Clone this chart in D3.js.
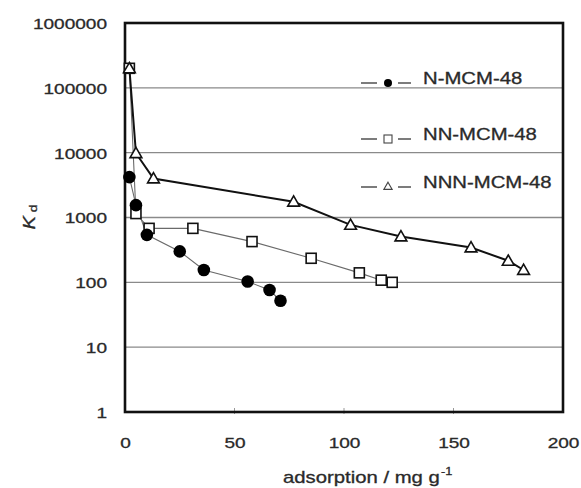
<!DOCTYPE html>
<html><head><meta charset="utf-8">
<script src="https://cdn.jsdelivr.net/npm/d3@7"></script>
<style>
html,body{margin:0;padding:0;background:#fff;}
text{font-family:"Liberation Sans",Arial,sans-serif;fill:#2a2a2a;stroke:#2a2a2a;stroke-width:0.3px;}
</style></head>
<body><svg id="c" width="581" height="488"></svg>
<script>
// ---- data ----
const seriesNames = ["N-MCM-48", "NN-MCM-48", "NNN-MCM-48"];
const nX   = [2, 5, 10, 25, 36, 56, 66, 71];
const nKd  = [4200, 1550, 540, 300, 155, 103, 76, 52];
const nnX  = [2, 5, 11, 31, 58, 85, 107, 117, 122];
const nnKd = [200000, 1150, 680, 680, 425, 235, 140, 108, 100];
const nnnX  = [2, 5, 13, 77, 103, 126, 158, 175, 182];
const nnnKd = [200000, 9800, 4000, 1750, 770, 510, 345, 215, 155];
const yTicks = [1, 10, 100, 1000, 10000, 100000, 1000000];
const xTicks = [0, 50, 100, 150, 200];

// ---- layout ----
const L = 125, R = 563, T = 23, B = 412;
const SX = 1.27; // horizontal stretch of the original type
const svg = d3.select("#c");
const x = d3.scaleLinear().domain([0, 200]).range([L, R]);
const y = d3.scaleLog().domain([1, 1e6]).range([B, T]);

// gridlines
svg.append("g").selectAll("line").data(yTicks.filter(d => d > 1 && d < 1e6)).join("line")
  .attr("x1", L).attr("x2", R).attr("y1", d => y(d)).attr("y2", d => y(d))
  .attr("stroke", "#8a8a8a").attr("stroke-width", 1.4);

// x tick marks (small, inside)
svg.append("g").selectAll("line").data(xTicks.filter(d => d > 0 && d < 200)).join("line")
  .attr("x1", d => x(d)).attr("x2", d => x(d)).attr("y1", B - 4).attr("y2", B + 2)
  .attr("stroke", "#999").attr("stroke-width", 1);

// axes via d3 axis generators (labels only)
const yAx = svg.append("g").attr("transform", `translate(${L},0)`)
  .call(d3.axisLeft(y).tickValues(yTicks).tickFormat(d => String(d)).tickSize(0).tickPadding(0));
yAx.select(".domain").remove();
yAx.selectAll("text").attr("x", -18 / SX).attr("dy", "0.36em")
  .attr("transform", `scale(${SX},1)`)
  .style("font-size", "15px").style("font-family", "Liberation Sans, Arial, sans-serif").attr("fill", "#2a2a2a");

const xAx = svg.append("g").attr("transform", `translate(0,${B})`)
  .call(d3.axisBottom(x).tickValues(xTicks).tickFormat(d => String(d)).tickSize(0).tickPadding(0));
xAx.select(".domain").remove();
xAx.selectAll(".tick").each(function(d) {
  d3.select(this).select("text").attr("y", 36).attr("dy", null).attr("x", 0)
    .attr("transform", `scale(${SX},1)`)
    .style("font-size", "15px").style("font-family", "Liberation Sans, Arial, sans-serif").attr("fill", "#2a2a2a");
});

// frame
svg.append("rect").attr("x", L).attr("y", T).attr("width", R - L).attr("height", B - T)
  .attr("fill", "none").attr("stroke", "#111").attr("stroke-width", 2.6);

// series
const line = d3.line().x(d => x(d[0])).y(d => y(d[1]));
const nData = nX.map((v, i) => [v, nKd[i]]);
const nnData = nnX.map((v, i) => [v, nnKd[i]]);
const nnnData = nnnX.map((v, i) => [v, nnnKd[i]]);

svg.append("path").datum(nnData).attr("d", line).attr("fill", "none").attr("stroke", "#6a6a6a").attr("stroke-width", 1.1);
svg.append("path").datum(nData).attr("d", line).attr("fill", "none").attr("stroke", "#6a6a6a").attr("stroke-width", 1.1);
svg.append("path").datum(nnnData).attr("d", line).attr("fill", "none").attr("stroke", "#111").attr("stroke-width", 2);

const sq = 10;
svg.append("g").selectAll("rect").data(nnData).join("rect")
  .attr("x", d => x(d[0]) - sq / 2).attr("y", d => y(d[1]) - sq / 2).attr("width", sq).attr("height", sq)
  .attr("fill", "#fff").attr("stroke", "#111").attr("stroke-width", 1.6);
svg.append("g").selectAll("circle").data(nData).join("circle")
  .attr("cx", d => x(d[0])).attr("cy", d => y(d[1])).attr("r", 6.3).attr("fill", "#000");
const tri = d3.symbol().type(d3.symbolTriangle).size(60);
svg.append("g").selectAll("path").data(nnnData).join("path")
  .attr("d", tri).attr("transform", d => `translate(${x(d[0])},${y(d[1]) + 1})`)
  .attr("fill", "#fff").attr("stroke", "#111").attr("stroke-width", 1.6);

// legend
const legY = [83, 139, 187];
const legG = svg.append("g");
seriesNames.forEach((name, i) => {
  const g = legG.append("g").attr("transform", `translate(0,${legY[i]})`);
  g.append("line").attr("x1", 361).attr("x2", 377).attr("y1", 0).attr("y2", 0).attr("stroke", "#444").attr("stroke-width", 1.4);
  g.append("line").attr("x1", 398).attr("x2", 411).attr("y1", 0).attr("y2", 0).attr("stroke", "#444").attr("stroke-width", 1.4);
  if (i === 0) g.append("circle").attr("cx", 388).attr("cy", 0).attr("r", 4).attr("fill", "#000");
  if (i === 1) g.append("rect").attr("x", 384).attr("y", -4).attr("width", 8).attr("height", 8).attr("fill", "#fff").attr("stroke", "#444").attr("stroke-width", 1.1);
  if (i === 2) g.append("path").attr("d", d3.symbol().type(d3.symbolTriangle).size(30)).attr("transform", "translate(388,0)").attr("fill", "#fff").attr("stroke", "#444").attr("stroke-width", 1.1);
  g.append("text").attr("transform", `translate(423,1) scale(${SX},1)`)
    .style("font-size", "16px").text(name);
});

// axis titles
const yt = svg.append("text").attr("transform", `translate(35,217) rotate(-90) scale(${SX},1)`)
  .attr("text-anchor", "middle").style("font-size", "16px");
yt.append("tspan").style("font-style", "italic").text("K");
yt.append("tspan").attr("dx", 3).attr("dy", 2).style("font-size", "11px").text("d");

const xt = svg.append("text").attr("transform", `translate(283,483) scale(${SX},1)`)
  .style("font-size", "16px");
xt.append("tspan").text("adsorption / mg g");
xt.append("tspan").attr("dx", 1).attr("dy", -8).style("font-size", "10px").text("-1");
</script></body></html>
